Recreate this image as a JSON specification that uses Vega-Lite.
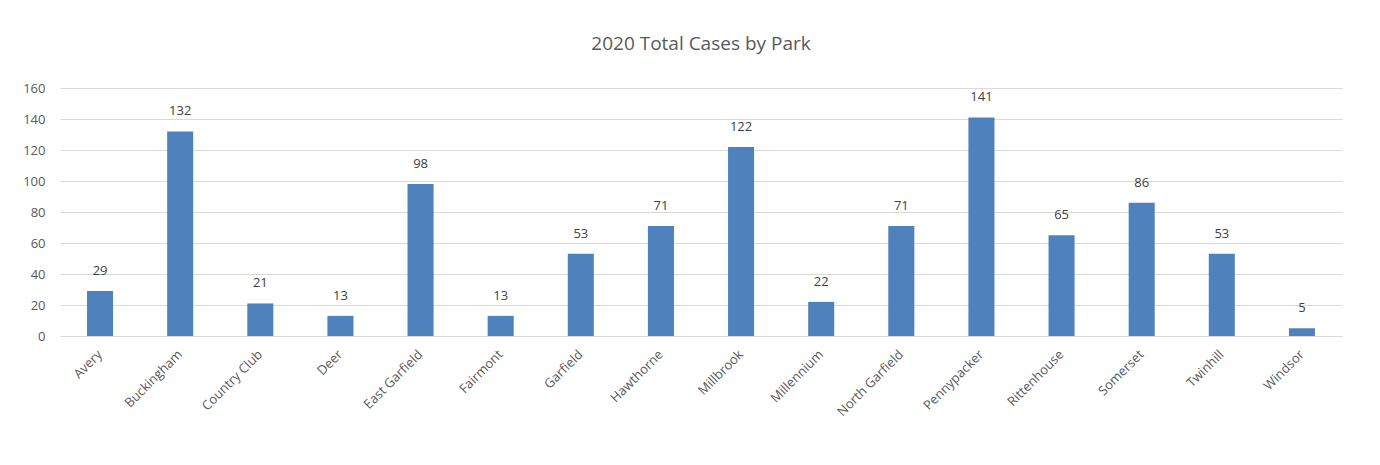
{
  "$schema": "https://vega.github.io/schema/vega-lite/v6.json",
  "autosize": {"type": "none"},
  "padding": {"left": 60, "top": 88, "right": 38, "bottom": 129},
  "width": 1282,
  "height": 248,
  "background": "white",
  "config": {"view": {"stroke": null}, "font": "Liberation Sans"},
  "title": {"text": "2020 Total Cases by Park", "fontSize": 19, "font": "Open Sans", "fontWeight": "normal", "color": "#595959", "offset": 28, "anchor": "middle"},
  "data": {"values": [
    {"park": "Avery", "cases": 29},
    {"park": "Buckingham", "cases": 132},
    {"park": "Country Club", "cases": 21},
    {"park": "Deer", "cases": 13},
    {"park": "East Garfield", "cases": 98},
    {"park": "Fairmont", "cases": 13},
    {"park": "Garfield", "cases": 53},
    {"park": "Hawthorne", "cases": 71},
    {"park": "Millbrook", "cases": 122},
    {"park": "Millennium", "cases": 22},
    {"park": "North Garfield", "cases": 71},
    {"park": "Pennypacker", "cases": 141},
    {"park": "Rittenhouse", "cases": 65},
    {"park": "Somerset", "cases": 86},
    {"park": "Twinhill", "cases": 53},
    {"park": "Windsor", "cases": 5}
  ]},
  "encoding": {
    "x": {"field": "park", "type": "nominal", "sort": null, "title": null,
      "scale": {"paddingInner": 0.675, "paddingOuter": 0.3375},
      "axis": {"labelAngle": -45, "labelAlign": "right", "labelBaseline": "middle", "labelPadding": 16, "labelFontSize": 13, "labelColor": "#595959", "labelFont": "Open Sans", "ticks": false, "domain": false}},
    "y": {"field": "cases", "type": "quantitative", "title": null,
      "scale": {"domain": [0, 160]},
      "axis": {"values": [0, 20, 40, 60, 80, 100, 120, 140, 160], "labelFontSize": 13, "labelColor": "#595959", "labelFont": "Open Sans", "labelPadding": 15, "ticks": false, "domain": false, "gridColor": "#d9d9d9", "gridWidth": 1}}
  },
  "layer": [
    {"mark": {"type": "bar", "color": "#4F81BD"}},
    {"mark": {"type": "text", "dy": -20, "fontSize": 13, "font": "Open Sans", "color": "#404040"},
      "encoding": {"text": {"field": "cases", "type": "quantitative"}}}
  ]
}
